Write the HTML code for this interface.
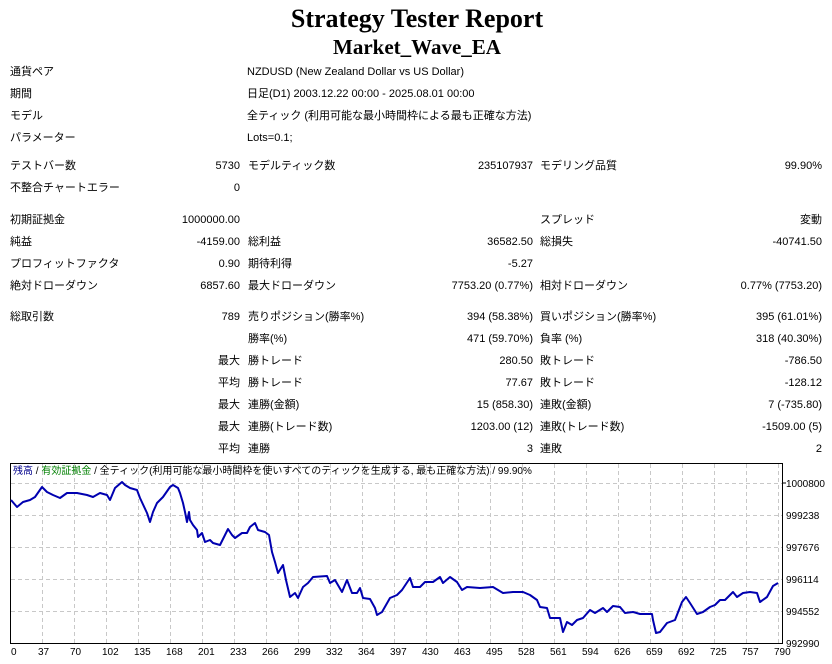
<!DOCTYPE html>
<html><head><meta charset="utf-8"><style>
body{margin:0;width:832px;height:664px;background:#fff;position:relative;overflow:hidden;font-family:"Liberation Sans","Noto Sans CJK JP",sans-serif;font-size:11px;color:#000}
.t{position:absolute;line-height:14px;white-space:nowrap}
.r{text-align:right}
h1,h2{position:absolute;margin:0;width:832px;text-align:center;font-family:"Liberation Serif",serif;font-weight:bold}
</style></head><body>
<h1 style="top:4px;font-size:26px;line-height:30px;left:1px">Strategy Tester Report</h1>
<h2 style="top:35px;font-size:21px;line-height:24px;left:1px">Market_Wave_EA</h2>

<div class="t" style="left:10px;top:65px">通貨ペア</div><div class="t" style="left:247px;top:65px">NZDUSD (New Zealand Dollar vs US Dollar)</div>
<div class="t" style="left:10px;top:87px">期間</div><div class="t" style="left:247px;top:87px">日足(D1) 2003.12.22 00:00 - 2025.08.01 00:00</div>
<div class="t" style="left:10px;top:109px">モデル</div><div class="t" style="left:247px;top:109px">全ティック (利用可能な最小時間枠による最も正確な方法)</div>
<div class="t" style="left:10px;top:131px">パラメーター</div><div class="t" style="left:247px;top:131px">Lots=0.1;</div>

<div id="rows"></div>
<script>
var R=[
[159,"テストバー数","5730","モデルティック数","235107937","モデリング品質","99.90%"],
[181,"不整合チャートエラー","0","","","",""],
[213,"初期証拠金","1000000.00","","","スプレッド","変動"],
[235,"純益","-4159.00","総利益","36582.50","総損失","-40741.50"],
[257,"プロフィットファクタ","0.90","期待利得","-5.27","",""],
[279,"絶対ドローダウン","6857.60","最大ドローダウン","7753.20 (0.77%)","相対ドローダウン","0.77% (7753.20)"],
[310,"総取引数","789","売りポジション(勝率%)","394 (58.38%)","買いポジション(勝率%)","395 (61.01%)"],
[332,"","","勝率(%)","471 (59.70%)","負率 (%)","318 (40.30%)"],
[354,"","最大","勝トレード","280.50","敗トレード","-786.50"],
[376,"","平均","勝トレード","77.67","敗トレード","-128.12"],
[398,"","最大","連勝(金額)","15 (858.30)","連敗(金額)","7 (-735.80)"],
[420,"","最大","連勝(トレード数)","1203.00 (12)","連敗(トレード数)","-1509.00 (5)"],
[442,"","平均","連勝","3","連敗","2"]];
var h="";
R.forEach(function(r){var y=r[0];
h+='<div class="t" style="left:10px;top:'+y+'px">'+r[1]+'</div>';
h+='<div class="t r" style="right:592px;top:'+y+'px">'+r[2]+'</div>';
h+='<div class="t" style="left:248px;top:'+y+'px">'+r[3]+'</div>';
h+='<div class="t r" style="right:299px;top:'+y+'px">'+r[4]+'</div>';
h+='<div class="t" style="left:540px;top:'+y+'px">'+r[5]+'</div>';
h+='<div class="t r" style="right:10px;top:'+y+'px">'+r[6]+'</div>';});
document.getElementById("rows").innerHTML=h;
</script>

<svg style="position:absolute;left:0;top:0" width="832" height="664">
<g stroke="#c8c8c8" stroke-dasharray="4,3" stroke-width="1" id="grid"></g>
<rect x="10.5" y="463.5" width="772" height="180" fill="none" stroke="#000" stroke-width="1"/>
<polyline fill="none" stroke="#0000b0" stroke-width="2" stroke-linejoin="round" points="
11,500 17,507 23,502 30,500 35,497 42,487 47,492 53,495 60,498 67,493 77,493 87,495 93,497 100,493 107,495 110,500 115,488 122,482 125,485 130,488 137,490 140,498 147,513 150,522 153,512 157,503 163,497 170,487 173,485 178,488 180,493
183,503 185,512 187,522 189,512 190,520 193,525 197,530 198,537 202,533 205,542 210,540 213,543 220,545 225,535 228,529 232,535 235,538 242,533 247,533 250,527 255,523 258,530 265,532 269,535 272,552 275,562 278,573 283,565 286,580 290,597 295,593 298,598 303,587 308,583 313,577 327,576 330,583 335,580 342,592 347,580 352,593 357,593 360,588 363,598 370,599 375,608 377,615 382,612 390,598 397,595 402,590 410,578 413,587 420,587 425,582 433,582 440,577 443,583 450,577 457,582 462,590 467,587 480,588 493,587 503,593 513,592 523,592 530,595 537,600 540,607 547,608 550,618 560,618 563,632 567,622 572,625 577,620 583,618 590,610 595,613 603,608 607,612 613,606 620,607 625,613 633,612 640,614 652,614 653,620 656,633 660,632 667,623 675,620 682,602 686,597 690,603 697,614 703,612 710,607 715,605 720,600 725,600 733,592 737,597 743,593 750,592 757,593 760,602 767,597 773,586 778,583"/>
<g font-family="Liberation Sans, sans-serif" font-size="10" fill="#000" id="lbl"></g>
<line x1="783" y1="483" x2="786" y2="483" stroke="#000"/>
</svg>
<div class="t" style="left:13px;top:465px;font-size:10px"><span style="color:#00008b">残高</span> / <span style="color:#008000">有効証拠金</span> / 全ティック(利用可能な最小時間枠を使いすべてのティックを生成する, 最も正確な方法) / 99.90%</div>
<script>
var g=document.getElementById("grid"),l=document.getElementById("lbl"),s="";
var xs=[0,37,70,102,135,168,201,233,266,299,332,364,397,430,463,495,528,561,594,626,659,692,725,757,790];
for(var k=1;k<=24;k++){var x=10+32*k+0.5;s+='<line x1="'+x+'" y1="464" x2="'+x+'" y2="643"/>';}
var ys=[483,515,547,579,611];
ys.forEach(function(y){s+='<line x1="11" y1="'+(y+0.5)+'" x2="782" y2="'+(y+0.5)+'"/>';});
g.innerHTML=s;
var t="";
xs.forEach(function(v,k){var x=k==0?11:10+32*k-4;t+='<text x="'+x+'" y="655">'+v+'</text>';});
var yl=["1000800","999238","997676","996114","994552","992990"];
yl.forEach(function(v,i){t+='<text x="786" y="'+(487+32*i)+'">'+v+'</text>';});
l.innerHTML=t;
</script>
</body></html>
